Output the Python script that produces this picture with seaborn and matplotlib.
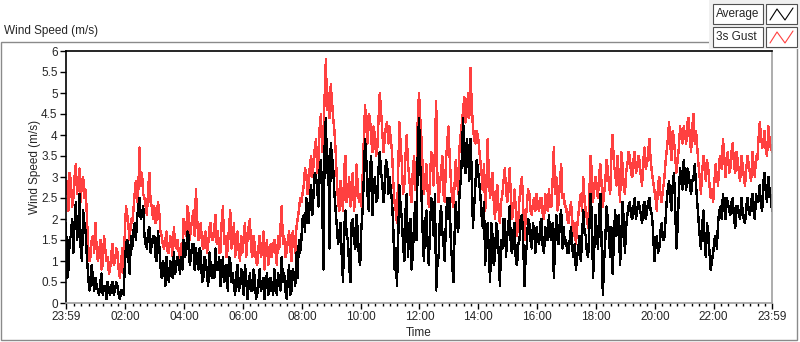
import numpy as np
import pandas as pd
import matplotlib
matplotlib.use("Agg")
import matplotlib.pyplot as plt
import seaborn as sns
from matplotlib.patches import Rectangle
from matplotlib.lines import Line2D

# samples on the 5-minute marks, 23:59 -> 23:59 next day (one line per hour)
gust = [
    2.6, 2.2, 2.9, 2.5, 3.3, 2.8, 2.4, 3.0, 2.7, 1.4, 1.1, 1.6,
    1.9, 1.0, 1.5, 0.9, 1.3, 1.1, 0.8, 1.4, 1.0, 1.2, 0.6, 1.3,
    1.7, 2.1, 1.5, 1.9, 2.6, 2.4, 3.7, 3.1, 2.5, 2.1, 3.1, 2.3,
    2.3, 2.0, 2.2, 1.6, 1.3, 1.7, 1.2, 1.5, 1.8, 1.3, 1.2, 1.4,
    2.0, 1.6, 2.1, 1.8, 2.2, 2.7, 1.5, 1.9, 1.3, 1.7, 1.4, 1.9,
    1.5, 2.1, 1.7, 1.2, 2.3, 1.6, 1.3, 2.2, 1.5, 1.1, 1.7, 1.0,
    1.2, 1.9, 1.5, 2.0, 1.1, 1.4, 0.9, 1.6, 1.2, 0.8, 1.5, 1.1,
    1.1, 1.5, 0.9, 1.3, 2.3, 1.6, 1.2, 1.7, 1.0, 1.5, 1.8, 2.2,
    2.4, 2.8, 3.1, 2.7, 3.5, 3.3, 3.9, 3.4, 4.5, 4.0, 5.8, 5.0,
    5.2, 4.4, 3.6, 2.4, 2.9, 2.2, 3.5, 2.6, 2.3, 3.1, 2.5, 2.8,
    2.6, 3.0, 4.7, 3.8, 4.4, 3.6, 4.0, 3.7, 5.0, 4.1, 3.9, 4.3,
    4.2, 3.6, 2.4, 1.9, 4.3, 3.3, 2.8, 4.0, 3.0, 2.4, 3.5, 2.9,
    5.0, 3.9, 2.6, 3.3, 2.3, 3.6, 2.8, 4.8, 2.4, 3.1, 2.6, 3.4,
    4.2, 2.9, 2.3, 3.4, 2.6, 4.0, 4.6, 4.3, 5.0, 5.6, 4.2, 3.8,
    4.0, 3.4, 2.7, 2.2, 3.9, 2.5, 3.1, 2.0, 2.8, 1.9, 2.6, 3.2,
    2.4, 3.2, 2.0, 2.7, 1.6, 2.5, 3.0, 1.5, 2.3, 2.6, 2.1, 2.5,
    2.6, 2.2, 2.5, 2.0, 2.4, 2.7, 2.3, 3.7, 3.0, 2.4, 3.3, 2.6,
    2.3, 1.9, 2.4, 1.6, 1.4, 2.1, 2.6, 3.0, 2.2, 1.8, 3.5, 2.4,
    3.0, 2.5, 3.3, 2.3, 2.9, 3.2, 2.6, 4.0, 3.1, 3.5, 2.4, 3.3,
    2.6, 3.3, 3.5, 3.0, 3.6, 3.2, 3.4, 2.8, 3.7, 3.3, 3.9, 3.1,
    2.7, 2.2, 3.0, 2.4, 2.9, 3.6, 4.3, 3.4, 3.9, 3.1, 3.7, 4.0,
    4.2, 3.8, 4.4, 3.6, 4.5, 4.1, 3.3, 2.6, 3.5, 2.9, 3.2, 2.5,
    2.4, 3.3, 2.8, 3.5, 3.9, 3.0, 3.6, 3.2, 3.8, 3.1, 3.4, 2.9,
    3.3, 2.8, 3.5, 3.1, 3.6, 3.0, 3.4, 4.3, 3.7, 4.1, 3.5, 3.9, 3.6,
]
average = [
    1.9, 0.8, 1.6, 1.2, 2.4, 1.8, 1.3, 2.2, 1.7, 0.7, 0.4, 0.6,
    0.6, 0.3, 0.5, 0.2, 0.4, 0.5, 0.2, 0.5, 0.3, 0.4, 0.1, 0.3,
    0.9, 1.5, 0.7, 1.3, 1.9, 2.0, 2.5, 2.1, 1.6, 1.3, 1.8, 1.4,
    1.6, 1.0, 1.4, 0.6, 0.9, 1.1, 0.5, 0.8, 1.2, 0.9, 1.0, 1.1,
    1.5, 1.2, 1.6, 1.1, 1.4, 1.3, 0.8, 1.2, 0.6, 1.0, 0.4, 0.9,
    0.9, 1.3, 0.8, 0.4, 1.1, 0.6, 0.3, 1.0, 0.7, 0.2, 0.9, 0.4,
    0.5, 0.9, 0.1, 0.7, 0.3, 0.6, 0.2, 0.8, 0.4, 0.1, 0.7, 0.3,
    0.4, 0.8, 0.2, 0.6, 1.1, 0.7, 0.1, 0.9, 0.3, 0.7, 1.2, 1.5,
    1.5, 2.1, 2.5, 1.9, 2.8, 2.6, 3.0, 2.3, 3.4, 0.8, 4.4, 3.5,
    3.8, 3.2, 2.2, 1.4, 1.9, 0.5, 2.2, 1.5, 0.5, 2.0, 1.3, 1.7,
    0.9, 2.2, 3.9, 2.6, 3.2, 2.1, 3.0, 2.5, 3.6, 2.9, 2.7, 3.3,
    3.0, 2.4, 0.8, 0.4, 2.8, 2.0, 1.0, 2.6, 1.7, 0.8, 1.9, 1.5,
    4.4, 2.6, 1.0, 2.2, 0.9, 2.5, 1.6, 0.3, 1.1, 2.3, 1.4, 2.0,
    2.0, 1.4, 0.5, 2.4, 1.7, 2.9, 4.4, 3.1, 3.6, 3.9, 1.8, 2.8,
    3.2, 2.6, 1.8, 0.9, 1.9, 0.5, 1.6, 1.1, 1.7, 0.4, 1.3, 2.0,
    1.6, 2.3, 1.2, 1.9, 0.9, 1.5, 2.1, 0.4, 1.4, 1.9, 1.3, 1.7,
    1.8, 1.4, 2.0, 1.2, 1.7, 2.1, 1.5, 0.6, 2.1, 1.4, 2.2, 1.8,
    1.5, 1.2, 1.8, 1.1, 0.8, 1.3, 1.0, 2.2, 1.6, 1.1, 2.6, 0.6,
    2.1, 1.3, 2.6, 0.2, 1.5, 2.0, 1.1, 0.7, 2.2, 1.8, 0.9, 2.4,
    1.2, 2.1, 2.4, 2.0, 2.5, 2.2, 2.3, 1.9, 2.4, 2.2, 2.5, 2.1,
    1.0, 1.6, 1.3, 1.9, 1.5, 2.4, 2.9, 2.2, 3.1, 1.3, 2.6, 3.0,
    3.4, 2.7, 3.1, 2.6, 3.0, 2.8, 2.0, 1.3, 2.2, 1.1, 1.7, 0.8,
    1.2, 1.6, 1.9, 2.3, 2.6, 2.0, 2.4, 2.1, 2.5, 1.8, 2.3, 2.0,
    2.2, 1.9, 2.5, 2.1, 2.6, 2.0, 2.4, 2.8, 2.2, 3.1, 2.4, 2.7, 2.2,
]
# samples half-way between the 5-minute marks (one line per hour)
gust_half = [
    2.9, 3.1, 2.3, 3.0, 2.6, 3.2, 2.9, 2.5, 2.1, 1.0, 1.5, 1.2,
    1.3, 1.2, 0.8, 1.6, 1.0, 0.7, 1.2, 0.9, 1.3, 0.8, 1.0, 0.7,
    2.3, 1.8, 2.0, 2.2, 2.9, 2.7, 2.8, 2.6, 2.3, 2.7, 2.4, 2.0,
    1.9, 2.4, 1.7, 1.4, 1.5, 1.2, 1.6, 1.1, 1.4, 1.5, 1.0, 1.3,
    1.7, 2.3, 1.5, 2.0, 1.6, 2.0, 1.8, 1.4, 1.6, 1.2, 1.8, 1.5,
    1.8, 1.4, 1.2, 1.9, 1.4, 1.1, 1.8, 1.3, 1.9, 1.4, 1.2, 1.6,
    1.6, 1.1, 1.8, 1.3, 1.6, 1.0, 1.3, 1.1, 1.7, 1.3, 0.9, 1.4,
    1.4, 1.2, 1.6, 1.8, 1.4, 1.1, 1.5, 1.3, 1.7, 1.2, 2.0, 2.5,
    2.6, 3.2, 2.6, 3.3, 3.0, 3.7, 3.1, 4.2, 3.6, 4.9, 4.6, 4.4,
    4.8, 4.1, 2.9, 2.2, 2.6, 3.2, 2.4, 3.0, 2.8, 2.2, 3.3, 2.4,
    2.3, 3.9, 4.2, 4.5, 3.9, 4.2, 3.5, 4.4, 4.6, 3.6, 4.2, 3.8,
    3.9, 2.9, 2.2, 3.1, 3.8, 2.6, 3.5, 3.3, 2.6, 3.2, 2.7, 4.4,
    4.4, 3.2, 2.9, 2.7, 3.0, 3.2, 3.7, 3.0, 2.8, 3.5, 2.4, 3.8,
    3.5, 2.5, 2.8, 3.0, 3.7, 4.3, 4.9, 4.5, 4.4, 4.7, 3.9, 4.1,
    3.7, 3.1, 3.3, 2.8, 3.0, 2.9, 2.4, 2.6, 2.2, 2.4, 2.9, 2.7,
    2.8, 2.5, 2.3, 2.2, 2.0, 2.8, 2.3, 2.0, 2.7, 2.2, 2.4, 2.2,
    2.3, 2.5, 2.1, 2.6, 2.2, 2.3, 2.9, 2.6, 2.2, 2.9, 2.5, 2.3,
    2.0, 2.2, 2.0, 1.9, 1.8, 2.4, 2.2, 2.5, 2.0, 2.6, 3.1, 2.8,
    2.7, 3.1, 2.8, 2.6, 3.4, 2.8, 3.6, 3.3, 2.8, 3.0, 3.6, 2.8,
    3.1, 3.6, 3.1, 3.4, 3.1, 3.5, 3.0, 3.4, 3.2, 3.6, 3.4, 2.9,
    2.5, 2.8, 2.6, 2.7, 3.3, 3.9, 3.8, 4.1, 3.5, 3.4, 4.2, 3.8,
    4.0, 4.3, 3.9, 4.2, 3.8, 3.7, 3.0, 3.1, 3.3, 3.4, 2.8, 2.7,
    2.9, 3.0, 3.4, 3.2, 3.5, 3.4, 3.1, 3.6, 3.3, 3.6, 3.1, 3.5,
    3.0, 3.2, 3.3, 2.9, 3.3, 3.5, 3.9, 4.0, 3.8, 3.6, 4.2, 3.7,
]
average_half = [
    0.6, 1.5, 2.0, 1.9, 1.5, 2.6, 1.0, 1.9, 1.1, 0.3, 0.9, 0.3,
    0.4, 0.2, 0.7, 0.4, 0.1, 0.3, 0.4, 0.2, 0.5, 0.2, 0.3, 0.2,
    1.4, 1.0, 1.6, 1.7, 1.5, 2.3, 2.0, 2.3, 1.4, 1.7, 1.2, 1.6,
    1.1, 1.7, 0.9, 1.0, 0.4, 0.7, 1.0, 0.6, 0.7, 1.1, 0.7, 0.8,
    1.1, 1.7, 0.9, 1.4, 0.8, 1.0, 1.3, 0.5, 1.1, 0.7, 1.2, 0.6,
    0.6, 0.8, 1.1, 0.7, 0.5, 0.9, 1.1, 0.5, 0.4, 0.7, 0.3, 0.8,
    0.2, 0.6, 0.4, 0.3, 0.8, 0.1, 0.5, 0.3, 0.6, 0.5, 0.2, 0.6,
    0.2, 0.5, 0.7, 0.3, 0.5, 0.3, 0.6, 0.2, 0.8, 0.4, 0.6, 1.2,
    2.0, 1.7, 2.2, 2.5, 2.1, 3.1, 2.7, 3.2, 2.5, 3.7, 3.1, 1.3,
    3.5, 2.6, 1.8, 1.7, 1.1, 1.8, 1.6, 0.9, 1.9, 1.5, 2.1, 1.1,
    1.8, 3.0, 3.4, 2.2, 3.5, 2.8, 2.4, 3.2, 3.1, 2.4, 3.4, 2.6,
    2.7, 1.8, 1.3, 1.5, 2.3, 1.4, 2.2, 1.1, 2.0, 1.2, 2.4, 3.6,
    3.3, 1.7, 1.9, 1.4, 1.8, 2.1, 2.6, 0.9, 2.0, 1.7, 1.0, 2.5,
    2.5, 1.0, 1.6, 1.9, 2.6, 3.5, 3.3, 3.9, 2.9, 3.1, 2.3, 3.4,
    2.9, 2.1, 2.4, 1.7, 1.2, 1.9, 0.9, 1.9, 1.2, 1.5, 2.0, 1.1,
    1.9, 1.3, 1.7, 1.0, 1.4, 2.0, 1.5, 1.1, 2.0, 1.5, 1.9, 1.2,
    1.5, 1.9, 1.3, 1.8, 1.5, 1.6, 1.9, 1.4, 1.5, 2.0, 1.3, 1.4,
    1.2, 1.5, 1.3, 1.4, 1.1, 1.6, 1.5, 1.7, 1.2, 1.8, 2.1, 1.3,
    1.7, 2.2, 1.4, 1.0, 2.3, 1.6, 1.8, 1.5, 1.6, 2.1, 1.5, 2.0,
    1.8, 2.3, 2.1, 2.3, 2.0, 2.4, 2.1, 2.3, 2.0, 2.4, 2.2, 1.7,
    1.4, 1.2, 1.7, 1.5, 1.9, 2.7, 2.5, 2.8, 2.3, 1.8, 3.2, 2.7,
    3.0, 3.2, 2.8, 2.9, 3.3, 2.4, 1.6, 1.8, 1.5, 1.9, 1.2, 1.0,
    1.5, 1.3, 2.2, 2.0, 2.3, 2.5, 2.2, 2.4, 2.0, 2.3, 2.1, 2.5,
    2.0, 2.3, 2.2, 2.4, 2.2, 2.6, 2.5, 2.3, 2.9, 2.6, 3.0, 2.5,
]
tick_labels = ["23:59", "02:00", "04:00", "06:00", "08:00", "10:00", "12:00",
               "14:00", "16:00", "18:00", "20:00", "22:00", "23:59"]
series_names = ["Average", "3s Gust"]
series_colors = ["black", "#FF4040"]

on_marks = pd.DataFrame({"minute": np.arange(len(gust)) * 5.0,
                         "Average": average, "3s Gust": gust})
between = pd.DataFrame({"minute": np.arange(len(gust_half)) * 5.0 + 2.5,
                        "Average": average_half, "3s Gust": gust_half})
df = pd.concat([on_marks, between]).sort_values("minute").reset_index(drop=True)

sns.set_theme(style="white")
plt.rcParams["font.family"] = ["Liberation Sans", "DejaVu Sans"]
FS = 8.5

W, H = 800, 342
fig = plt.figure(figsize=(W / 100, H / 100), dpi=100)


def fx(px):
    return px / W


def fy(py):
    return 1 - py / H


ax = fig.add_axes([fx(66), fy(303), (772 - 66) / W, (303 - 51) / H])
# LabVIEW draws its traces without smoothing
sns.lineplot(data=df, x="minute", y="3s Gust", color=series_colors[1], lw=1,
             antialiased=False, ax=ax)
sns.lineplot(data=df, x="minute", y="Average", color=series_colors[0], lw=1,
             antialiased=False, ax=ax)

ax.set_xlim(0, 1440)
ax.set_ylim(0, 6)
major = [0] + [121 + 120 * k for k in range(11)] + [1440]
ax.set_xticks(major)
ax.set_xticklabels(tick_labels, fontsize=FS)
ax.set_xticks(np.arange(16, 1440, 15), minor=True)
ax.set_yticks(np.arange(0, 6.01, 0.5))
ax.set_yticklabels([f"{v:g}" for v in np.arange(0, 6.01, 0.5)], fontsize=FS)
ax.tick_params(axis="both", which="major", direction="out", length=4, width=1,
               color="black", pad=2, bottom=True, left=True)
ax.tick_params(axis="x", which="minor", direction="out", length=2.5, width=1,
               color="black", bottom=True)
ax.set_xlabel("Time", fontsize=FS)
ax.set_ylabel("Wind Speed (m/s)", fontsize=FS)
ax.xaxis.set_label_coords(0.5, -0.095)
ax.yaxis.set_label_coords(-0.036, 0.54)
for side in ["left", "top"]:
    ax.spines[side].set_color("black")
    ax.spines[side].set_linewidth(1.2)
for side in ["right", "bottom"]:
    ax.spines[side].set_color("#a0a0a0")
    ax.spines[side].set_linewidth(1.2)

# outer chart frame and caption
fig.add_artist(Rectangle((fx(1), fy(340)), (797 - 1) / W, (340 - 42) / H,
                         transform=fig.transFigure, fill=False, edgecolor="#8a8a8a", lw=1))
fig.text(fx(4), fy(31), "Wind Speed (m/s)", fontsize=FS, ha="left", va="center")

# plot legend (LabVIEW style)
fig.add_artist(Rectangle((fx(709), fy(49)), (800 - 709) / W, 49 / H,
                         transform=fig.transFigure, facecolor="#f0f0f0", edgecolor="none"))
for i, (name, col) in enumerate(zip(series_names, series_colors)):
    top = 4 + i * 23
    fig.add_artist(Rectangle((fx(713), fy(top + 20)), 50 / W, 20 / H, transform=fig.transFigure,
                             facecolor="white", edgecolor="#505050", lw=0.8))
    fig.add_artist(Rectangle((fx(766), fy(top + 20)), 31 / W, 20 / H, transform=fig.transFigure,
                             facecolor="white", edgecolor="#505050", lw=0.8))
    fig.text(fx(716), fy(top + 10), name, fontsize=FS, ha="left", va="center")
    fig.add_artist(Line2D([fx(770), fx(777), fx(785), fx(793)],
                          [fy(top + 16), fy(top + 5), fy(top + 16), fy(top + 4)],
                          transform=fig.transFigure, color=col, lw=0.8))

fig.savefig("out.png", dpi=100)
